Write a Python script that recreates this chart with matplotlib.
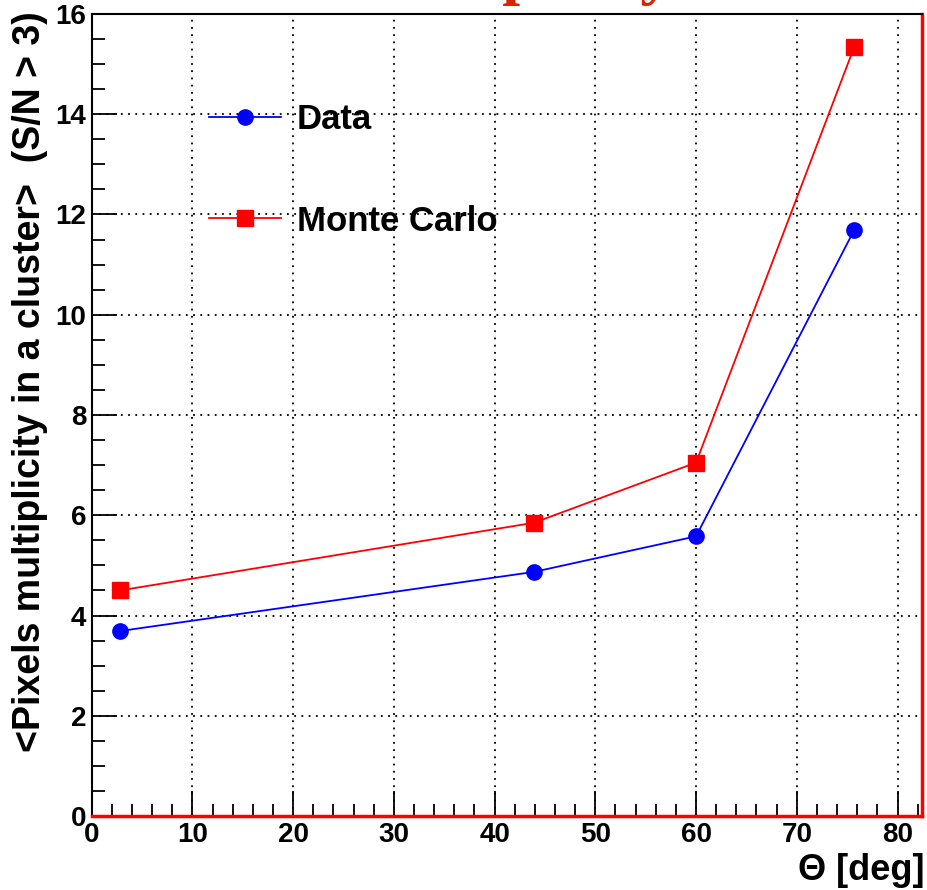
import numpy as np
import matplotlib.pyplot as plt
from matplotlib.ticker import MultipleLocator
from matplotlib.lines import Line2D

plt.rcParams["font.family"] = ["Liberation Sans", "DejaVu Sans"]
plt.rcParams["font.weight"] = "bold"

theta = [2.8, 43.9, 60.0, 75.7]
data_mult = [3.69, 4.87, 5.58, 11.69]
mc_mult = [4.50, 5.85, 7.05, 15.34]

fig = plt.figure(figsize=(9.28, 8.90), dpi=100)
ax = fig.add_axes([0.0988, 0.0831, 0.8944, 0.9012])

ax.plot(theta, data_mult, color="blue", lw=1.3, marker="o", ms=11, zorder=3)
ax.plot(theta, mc_mult, color="red", lw=1.3, marker="s", ms=11, zorder=3)

ax.set_xlim(0, 82.4)
ax.set_ylim(0, 16)
ax.xaxis.set_major_locator(MultipleLocator(10))
ax.xaxis.set_minor_locator(MultipleLocator(2))
ax.yaxis.set_major_locator(MultipleLocator(2))
ax.yaxis.set_minor_locator(MultipleLocator(0.5))
ax.tick_params(which="both", direction="in", top=False, right=False,
               width=1.3, labelsize=20, pad=4)
ax.tick_params(which="major", length=18)
ax.tick_params(which="minor", length=9)
for lab in ax.get_xticklabels() + ax.get_yticklabels():
    lab.set_fontweight("bold")

ax.grid(True, which="major", color="black", linestyle=(0, (1, 3)), linewidth=1.3)

for side in ["left", "top"]:
    ax.spines[side].set_linewidth(1.5)
ax.spines["bottom"].set_color("red")
ax.spines["bottom"].set_linewidth(2.5)
ax.spines["right"].set_color("red")
ax.spines["right"].set_linewidth(2.5)

handles = [
    Line2D([], [], color="blue", lw=1.3, marker="o", ms=11),
    Line2D([], [], color="red", lw=1.3, marker="s", ms=11),
]
ax.legend(handles, ["Data", "Monte Carlo"], loc="upper left",
          bbox_to_anchor=(0.206, 0.904), bbox_transform=fig.transFigure,
          frameon=False, borderpad=0, handlelength=2.1, handletextpad=0.45,
          labelspacing=1.98, prop={"size": 25, "weight": "bold"})

fig.text(0.032, 0.987, "<Pixels multiplicity in a cluster>  (S/N > 3)",
         rotation=90, ha="center", va="top", fontsize=27, fontweight="bold")
fig.text(0.996, 0.002, "\u0398 [deg]", ha="right", va="bottom",
         fontsize=26, fontweight="bold")

# slide title sitting just above the frame
fig.text(0.555, 1.009, "multiplicity", ha="center", va="baseline",
         fontsize=46, color="#dd2200", family="Liberation Serif")

fig.savefig("out.png", dpi=100)
